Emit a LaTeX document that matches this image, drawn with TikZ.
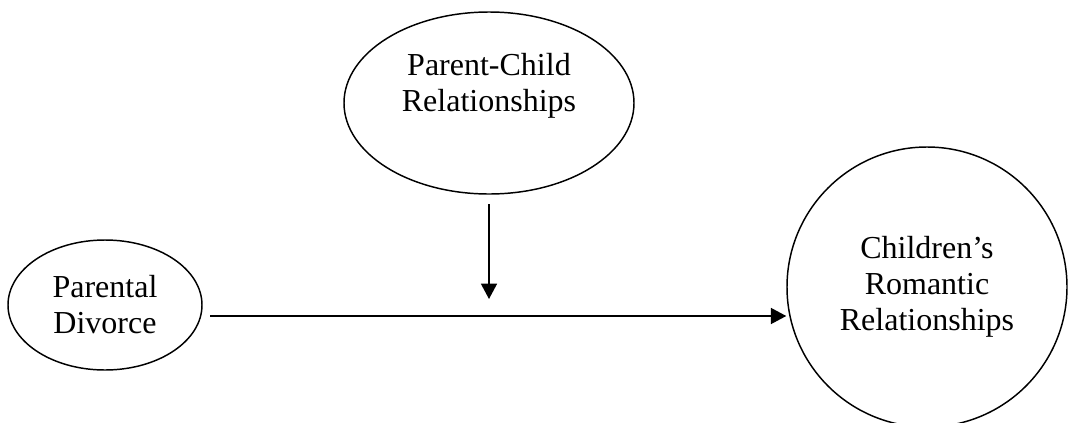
\documentclass[tikz,border=0pt]{standalone}
\usepackage{fontspec}
\setmainfont{Liberation Serif}
\usetikzlibrary{shapes.geometric,arrows.meta,calc,positioning}
\begin{document}
\begin{tikzpicture}[x=0.75pt,y=-0.75pt,line join=round,line width=1.1pt,
  oval/.style={draw,ellipse,inner sep=0pt},
  txt/.style={align=center,font=\fontsize{24}{27}\selectfont},
  ar/.style={-{Triangle[length=11.5pt,width=12pt]}}]
\useasboundingbox (0,0) rectangle (1068,422);
\clip (0,0) rectangle (1068,422);
\node[oval,txt,minimum width=145.5pt,minimum height=97.5pt] (pd) at (105,305) {Parental\\Divorce};
\node[oval,minimum width=217.5pt,minimum height=136.5pt] (pcr) at (489,103) {};
\node[txt] (pcrtext) at (489,86) {Parent-Child\\Relationships};
\node[oval,circle,txt,minimum size=210pt] (crr) at (927,287) {Children’s\\Romantic\\Relationships};
\coordinate (src) at (210,316);
\coordinate (mod) at (489,299);
\draw[ar] (src) -- (src -| crr.west);
\draw[ar,shorten <=7pt] (pcr.south) -- (pcr.south |- mod);
\end{tikzpicture}
\end{document}
